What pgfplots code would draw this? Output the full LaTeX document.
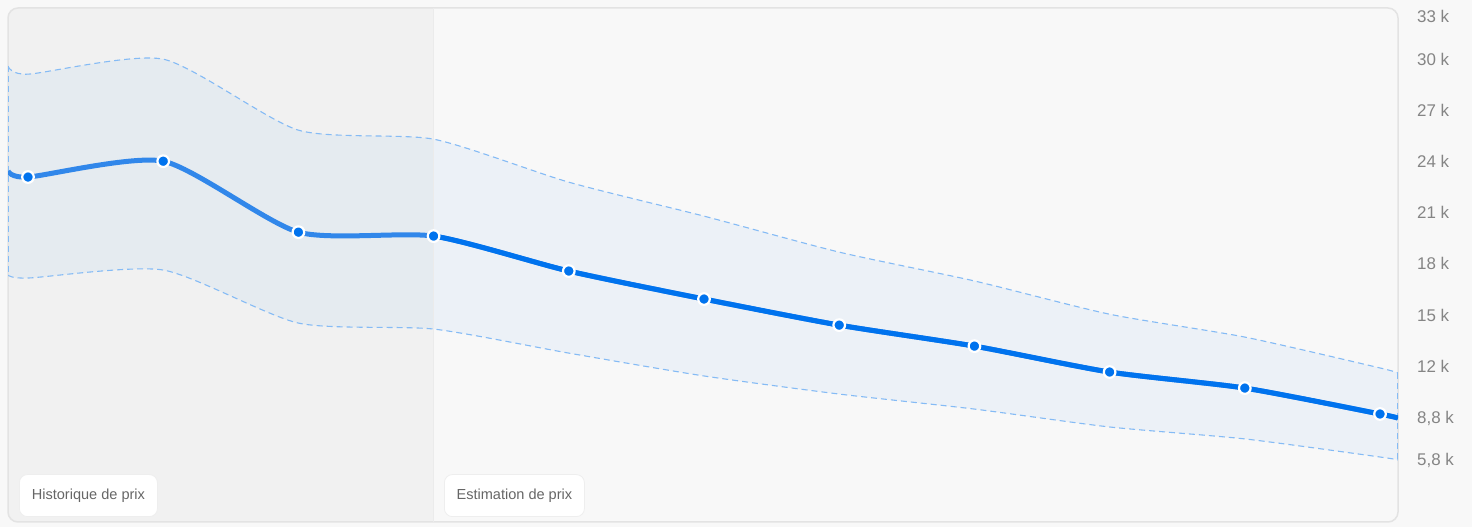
\documentclass[border=0pt]{standalone}
\usepackage{pgfplots}
\pgfplotsset{compat=1.18}
\usepgfplotslibrary{fillbetween}
\usepackage{fontspec}
\setmainfont{Liberation Sans}
\definecolor{bg}{HTML}{F8F8F8}
\definecolor{histbg}{HTML}{F1F1F1}
\definecolor{frame}{HTML}{E3E3E3}
\definecolor{gridc}{HTML}{EBEBEB}
\definecolor{mainblue}{HTML}{0073EE}
\definecolor{histblue}{HTML}{3187EA}
\definecolor{dashblue}{HTML}{85BBF5}
\definecolor{bandc}{HTML}{0073EE}
\definecolor{tickc}{HTML}{858585}
\definecolor{lblc}{HTML}{666666}
\definecolor{boxc}{HTML}{EEEEEE}
\pgfdeclarelayer{pre main}
\pgfsetlayers{pre main,main}

\begin{document}
\begin{tikzpicture}
\begin{pgfonlayer}{pre main}
\fill[bg] (0bp,0bp) rectangle (1472bp,527bp);
\begin{scope}
\clip[rounded corners=10bp] (8bp,5bp) rectangle (1398bp,519bp);
\fill[histbg] (8bp,5bp) rectangle (433.6bp,519bp);
\end{scope}
\end{pgfonlayer}
\draw[frame, line width=1.5bp, rounded corners=10bp] (8bp,5bp) rectangle (1398bp,519bp);
\begin{axis}[
  at={(8bp,5bp)}, anchor=south west,
  width=1390bp, height=514bp, scale only axis,
  xmin=-0.148, xmax=10.133, ymin=2.87, ymax=33,
  axis line style={draw=none},
  xtick=\empty,
  ytick pos=right, yticklabel pos=right,
  ytick={8.96,12,15,18,21,24,27,30},
  yticklabels={{8,8 k},12 k,15 k,18 k,21 k,24 k,27 k,30 k},
  extra y ticks={6.45,32.52},
  extra y tick labels={{5,8 k},33 k},
  extra y tick style={grid=none},
  ymajorgrids, grid style={gridc, line width=0.8bp},
  major tick length=0pt,
  yticklabel style={anchor=west, inner sep=0pt, xshift=19bp, font=\fontsize{17}{20}\selectfont, text=tickc},
  every axis plot/.append style={tension=0.4},
]
\draw[gridc, line width=0.8bp] (axis cs:3,2.87) -- (axis cs:3,33);
\addplot[dashblue, line width=1.1bp, dash pattern=on 6bp off 4bp, smooth, name path=U] coordinates {
(-0.148,29.59) (0,29.12) (1,30.0) (2,25.84) (3,25.31) (4,22.79) (5,20.80) (6,18.69) (7,17.0) (8,15.05) (9,13.71) (10,11.90) (10.133,11.60)};
\addplot[dashblue, line width=1.1bp, dash pattern=on 6bp off 4bp, smooth, name path=L] coordinates {
(-0.148,17.34) (0,17.17) (1,17.64) (2,14.53) (3,14.18) (4,12.77) (5,11.43) (6,10.37) (7,9.49) (8,8.44) (9,7.74) (10,6.68) (10.133,6.51)};
\addplot[bandc, fill=bandc, fill opacity=0.048, draw=none] fill between[of=U and L];
\draw[dashblue, line width=1.1bp, dash pattern=on 6bp off 4bp] (axis cs:-0.144,29.59) -- (axis cs:-0.144,17.34);
\draw[dashblue, line width=1.1bp, dash pattern=on 6bp off 4bp] (axis cs:10.128,11.60) -- (axis cs:10.128,6.51);
\addplot[histblue, line width=5bp, smooth] coordinates {
(-0.148,23.44) (0,23.09) (1,24.02) (2,19.86) (3,19.63) (4,17.58) (5,15.94) (6,14.41) (7,13.18) (8,11.66) (9,10.72) (10,9.20) (10.133,8.96)};
\end{axis}
\begin{axis}[
  at={(433.6bp,5bp)}, anchor=south west,
  width=964.4bp, height=514bp, scale only axis,
  xmin=3, xmax=10.133, ymin=2.87, ymax=33,
  hide axis, clip mode=individual,
  every axis plot/.append style={tension=0.4},
]
\addplot[mainblue, line width=5bp, smooth] coordinates {
(-0.148,23.44) (0,23.09) (1,24.02) (2,19.86) (3,19.63) (4,17.58) (5,15.94) (6,14.41) (7,13.18) (8,11.66) (9,10.72) (10,9.20) (10.133,8.96)};
\addplot[clip=false, only marks, mark=*, mark size=5.8bp, mark options={fill=mainblue, draw=white, line width=2.2bp}] coordinates {
(0,23.09) (1,24.02) (2,19.86) (3,19.63) (4,17.58) (5,15.94) (6,14.41) (7,13.18) (8,11.66) (9,10.72) (10,9.20)};
\end{axis}
\node[fill=white, draw=boxc, line width=0.8bp, rounded corners=8bp, minimum width=138bp, minimum height=42bp, inner sep=0pt, anchor=south west, font=\fontsize{14.6}{16}\selectfont, text=lblc] at (19bp,10bp) {Historique de prix};
\node[fill=white, draw=boxc, line width=0.8bp, rounded corners=8bp, minimum width=140bp, minimum height=42bp, inner sep=0pt, anchor=south west, font=\fontsize{14.6}{16}\selectfont, text=lblc] at (444bp,10bp) {Estimation de prix};
\end{tikzpicture}
\end{document}
